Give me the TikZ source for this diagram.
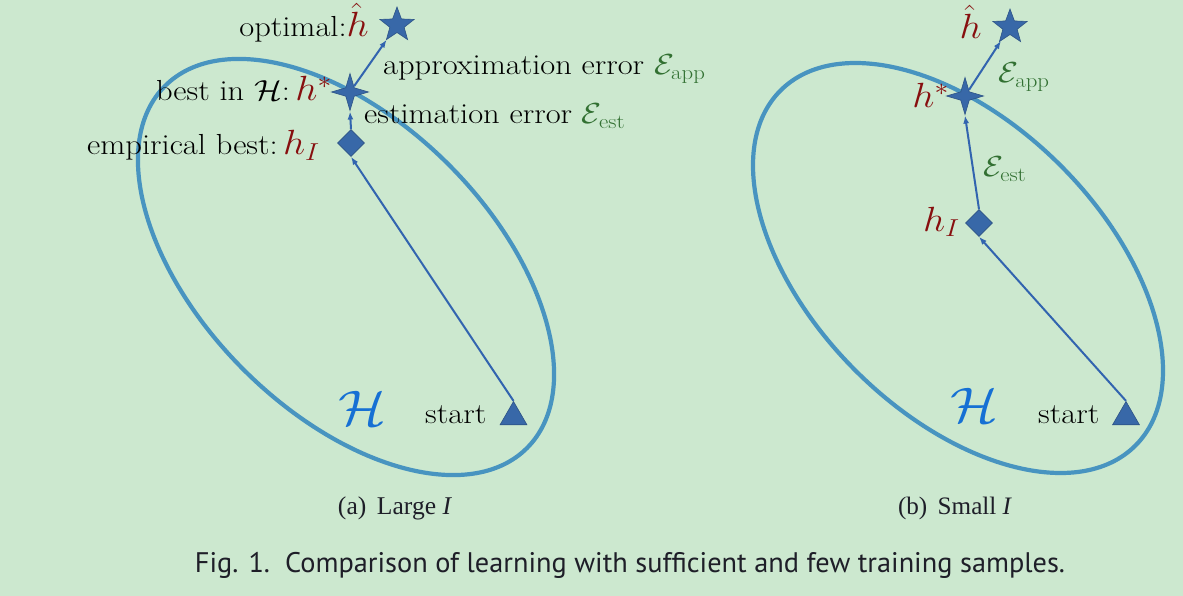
\RequirePackage{fix-cm}
\documentclass[tikz,border=0pt]{standalone}
\usepackage{fontspec}
\usetikzlibrary{shapes.geometric,arrows.meta}
\newfontfamily\capserif{Liberation Serif}
\newfontfamily\capsans{PT Sans}
\definecolor{bgc}{RGB}{204,232,207}
\definecolor{ellc}{RGB}{72,148,192}
\definecolor{nodeb}{RGB}{56,104,168}
\definecolor{arrc}{RGB}{50,100,175}
\definecolor{hred}{RGB}{135,15,15}
\definecolor{egreen}{RGB}{50,112,50}
\definecolor{hblue}{RGB}{22,112,212}
\definecolor{capc}{RGB}{30,30,40}
\newcommand\hlab[1]{{\fontsize{35}{40}\selectfont\color{hred}$#1$}}
\newcommand\elab[1]{{\color{egreen}$#1$}}
\newcommand\wx[1]{\scalebox{1.12}[1]{#1}}
\begin{document}
\begin{tikzpicture}[x=1pt,y=-1pt,
  lbl/.style={font=\fontsize{29}{35}\selectfont, inner sep=0pt, text=black},
  mk/.style={fill=nodeb, draw=nodeb!80!black, line width=0.6pt, inner sep=0pt},
  st5/.style={mk, star, star points=5, star point ratio=2.4, minimum size=36pt},
  st4/.style={mk, star, star points=4, star point ratio=3.1, minimum size=37pt},
  dia/.style={mk, diamond, minimum size=27pt},
  tri/.style={mk, regular polygon, regular polygon sides=3, minimum size=31pt},
  arr/.style={draw=arrc, line width=2pt, -{Latex[length=8pt,width=6pt]}},
  ell/.style={draw=ellc, line width=4.2pt},
  bigH/.style={inner sep=0pt, text=hblue, font=\fontsize{50}{55}\selectfont}
]
\fill[bgc] (0,0) rectangle (1183,596);
\useasboundingbox (0,0) rectangle (1183,596);

% ---------- left panel ----------
\draw[ell, rotate around={-45:(346,267)}] (346,267) ellipse [x radius=256pt, y radius=145pt];
\node[st5] (hh1) at (397,25) {};
\node[st4] (hs1) at (350,92) {};
\node[dia] (em1) at (351,143) {};
\node[tri] (st1) at (513.5,417) {};
\draw[arr] (st1.north) -- (em1.south);
\draw[arr] (em1.north) -- (hs1.south);
\draw[arr] (hs1) -- (hh1);
\node[lbl, anchor=base east] (l1) at (369,37) {\wx{optimal:\hlab{\hat{h}}}};
\node[lbl, anchor=base west] (l2) at (383,75) {\wx{approximation error \elab{\mathcal{E}_{\mathrm{app}}}}};
\node[lbl, anchor=base east] (l3) at (332,101) {\wx{best in $\mathcal{H}$:\,\hlab{h^*}}};
\node[lbl, anchor=base west] (l4) at (364,124) {\wx{estimation error \elab{\mathcal{E}_{\mathrm{est}}}}};
\node[lbl, anchor=base east] (l5) at (320,155) {\wx{empirical best:\,\hlab{h_I}}};
\node[bigH] (H1) at (362,408) {\wx{$\mathcal{H}$}};
\node[lbl, anchor=base west] (s1) at (425,423) {\wx{start}};

% ---------- right panel ----------
\draw[ell, rotate around={-45:(958,268)}] (958,268) ellipse [x radius=251pt, y radius=145pt];
\node[st5] (hh2) at (1010,27) {};
\node[st4] (hs2) at (965,96) {};
\node[dia] (em2) at (979,223) {};
\node[tri] (st2) at (1126,417) {};
\draw[arr] (st2.north) -- (em2.south);
\draw[arr] (em2.north) -- (hs2.south);
\draw[arr] (hs2) -- (hh2);
\node[lbl, anchor=base east] (r1) at (982,39) {\wx{\hlab{\hat{h}}}};
\node[lbl, anchor=base west] (r2) at (998,83) {\wx{\elab{\mathcal{E}_{\mathrm{app}}}}};
\node[lbl, anchor=base east] (r3) at (949,108) {\wx{\hlab{h^*}}};
\node[lbl, anchor=base west] (r4) at (983,177) {\wx{\elab{\mathcal{E}_{\mathrm{est}}}}};
\node[lbl, anchor=base east] (r5) at (960,231) {\wx{\hlab{h_I}}};
\node[bigH] (H2) at (974,405) {\wx{$\mathcal{H}$}};
\node[lbl, anchor=base west] (s2) at (1038,423) {\wx{start}};

% ---------- captions ----------
\node[inner sep=0pt, anchor=base, text=capc] (ca) at (395,514)
  {\resizebox{114pt}{!}{\capserif (a)\, Large \textit{I}}};
\node[inner sep=0pt, anchor=base, text=capc] (cb) at (955,514)
  {\resizebox{114pt}{!}{\capserif (b)\, Small \textit{I}}};
\node[inner sep=0pt, anchor=base, text=capc] (cf) at (630,572)
  {\resizebox{870pt}{!}{\capsans Fig. 1.\ \ Comparison of learning with sufficient and few training samples.}};
\end{tikzpicture}
\end{document}
